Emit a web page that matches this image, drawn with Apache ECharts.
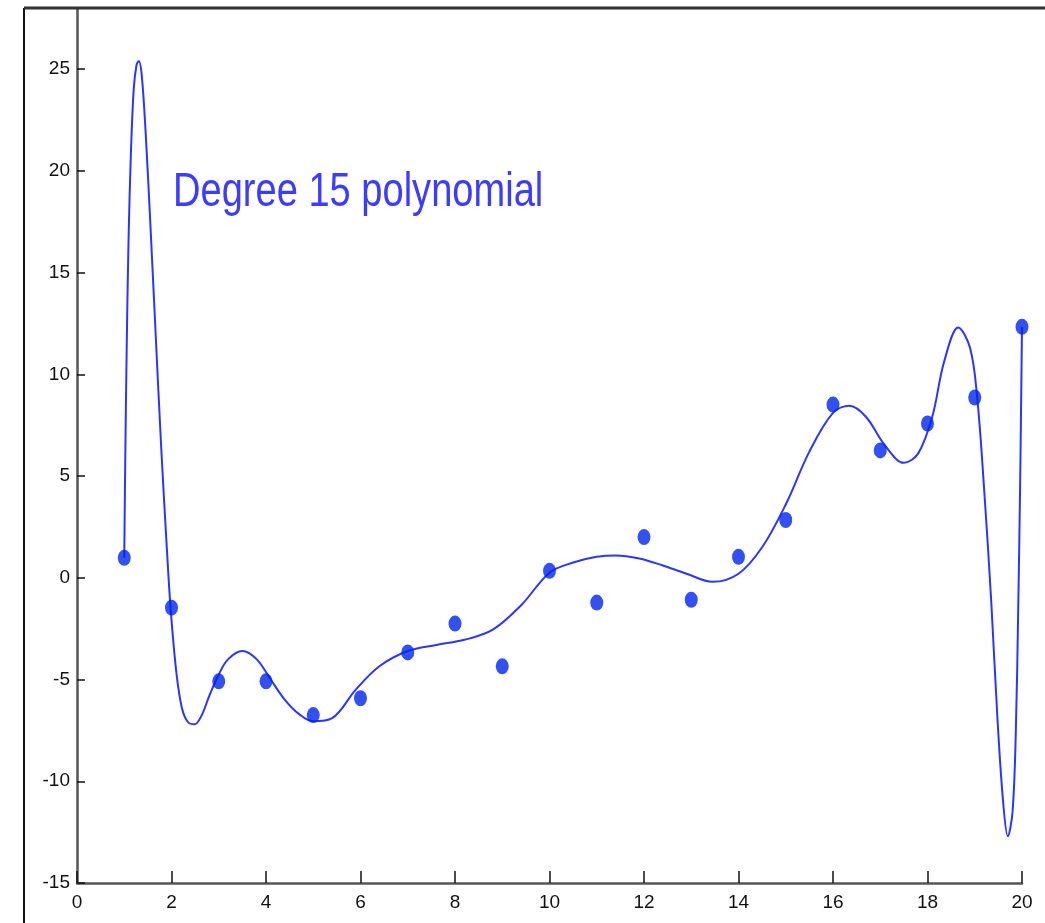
<!DOCTYPE html>
<html>
<head>
<meta charset="utf-8">
<script src="https://cdn.jsdelivr.net/npm/echarts@6/dist/echarts.min.js"></script>
<style>
html,body{margin:0;padding:0;background:#fff;}
#chart{width:1045px;height:923px;}
</style>
</head>
<body>
<div id="chart"></div>
<script>
// Sample points
const sampleX = [1,2,3,4,5,6,7,8,9,10,11,12,13,14,15,16,17,18,19,20];
const sampleY = [0.98,-1.47,-5.09,-5.09,-6.75,-5.92,-3.67,-2.25,-4.35,0.34,-1.22,2.0,-1.08,1.03,2.84,8.51,6.26,7.58,8.86,12.33];

// Fitted curve
const curveX = [1.0,1.02,1.05,1.09,1.14,1.2,1.26,1.31,1.37,1.45,1.55,1.66,1.78,1.9,1.98,2.1,2.22,2.35,2.49,2.63,2.8,3.0,3.2,3.5,3.8,4.1,4.4,4.7,5.0,5.4,5.9,6.4,7.0,7.6,8.2,8.8,9.4,10.0,10.5,11.0,11.4,11.9,12.4,12.9,13.45,14.0,14.5,15.0,15.5,16.0,16.35,16.7,17.1,17.5,17.8,18.1,18.35,18.65,18.9,19.05,19.2,19.35,19.48,19.6,19.7,19.8,19.87,19.92,19.96,20.0];
const curveY = [0.98,5.5,11.0,16.5,20.8,24.0,25.2,25.4,24.7,22.0,17.5,12.2,6.5,1.5,-1.47,-4.6,-6.4,-7.1,-7.2,-6.8,-5.8,-4.75,-4.0,-3.6,-4.0,-5.0,-6.0,-6.7,-7.05,-6.9,-5.5,-4.35,-3.6,-3.3,-3.05,-2.55,-1.35,0.25,0.75,1.03,1.1,0.95,0.6,0.2,-0.2,0.2,1.5,3.6,6.2,8.1,8.45,7.9,6.5,5.65,6.1,7.9,10.6,12.3,11.3,8.9,4.3,-1.2,-6.9,-11.0,-12.7,-11.5,-7.5,-1.5,4.5,12.33];

const yTicks = [-15,-10,-5,0,5,10,15,20,25];
const labelText = 'Degree 15 polynomial';

const chart = echarts.init(document.getElementById('chart'), null, {renderer:'canvas'});
const tickFont = {fontFamily:'Liberation Sans Narrow, Liberation Sans, Arial, sans-serif', fontSize:19, color:'#111'};

chart.setOption({
  backgroundColor:'#fff',
  animation:false,
  grid:{left:77, right:23, top:8, bottom:40, containLabel:false},
  xAxis:{
    type:'value', min:0, max:20, interval:2,
    axisLine:{show:true, onZero:false, lineStyle:{color:'#555', width:2.5}},
    axisTick:{show:true, inside:true, length:12, lineStyle:{color:'#111', width:1.5}},
    axisLabel:Object.assign({margin:10}, tickFont),
    splitLine:{show:false}
  },
  yAxis:{
    type:'value', min:-15, max:28, interval:5,
    axisLine:{show:true, onZero:false, lineStyle:{color:'#555', width:2.5}},
    axisTick:{show:true, inside:true, length:8, customValues:yTicks, lineStyle:{color:'#111', width:1.5}},
    axisLabel:Object.assign({margin:7, customValues:yTicks}, tickFont),
    splitLine:{show:false}
  },
  series:[
    {
      type:'line',
      data:curveX.map((x,i)=>[x,curveY[i]]),
      smooth:0.35,
      symbol:'none',
      lineStyle:{color:'#2b35ff', width:2},
      z:2
    },
    {
      type:'scatter',
      data:sampleX.map((x,i)=>[x,sampleY[i]]),
      symbol:'circle',
      symbolSize:[13,16],
      itemStyle:{color:'#0024ee'},
      z:3
    }
  ],
  graphic:[
    {type:'line', shape:{x1:24,y1:8,x2:24,y2:923}, style:{stroke:'#111', lineWidth:2}, z:10},
    {type:'line', shape:{x1:24,y1:8,x2:1045,y2:8}, style:{stroke:'#333', lineWidth:3}, z:10},
    {type:'text', x:173, y:193, scaleX:0.865, scaleY:1.08,
     style:{text:labelText, fill:'#3c3cff', font:'44px "Liberation Sans", Arial, sans-serif', verticalAlign:'middle', align:'left'}, z:10}
  ]
});
</script>
</body>
</html>
